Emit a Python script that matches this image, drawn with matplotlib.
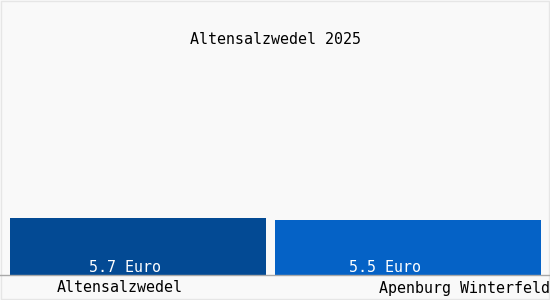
import numpy as np
import matplotlib.pyplot as plt

title = 'Altensalzwedel 2025'
places = ['Altensalzwedel', 'Apenburg Winterfeld']
prices = [5.7, 5.5]
bar_colors = ['#034a94', '#0562c6']

fig = plt.figure(figsize=(5.5, 3), dpi=100, facecolor='#f9f9f9')
ax = fig.add_axes([0, 25 / 300, 1, 275 / 300])
ax.set_facecolor('#f9f9f9')

x = np.arange(len(places))
ax.bar(x, prices, width=[0.948, 0.985], color=bar_colors, align='center')
ax.set_xlim(-0.511, 1.526)
ax.set_ylim(0, 27.5)
ax.axis('off')

font = dict(family='DejaVu Sans Mono', fontsize=10.8)

# value labels inside the bars
offsets = [-0.048, -0.085]
for xi, v, off in zip(x, prices, offsets):
    ax.text(xi + off, 0.7, f'{v:.1f} Euro', color='white',
            ha='center', va='center', **font)

# baseline
fig.add_artist(plt.Line2D([0, 1], [25 / 300, 25 / 300], color='#a8a8a8', lw=1))

# faint frame
fig.add_artist(plt.Rectangle((1 / 550, 1 / 300), 548 / 550, 298 / 300, fill=False,
                             edgecolor='#e6e6e6', lw=1))

# category labels
fig.text(120 / 550, 12 / 300, places[0], ha='center', va='center', **font)
fig.text(550 / 550, 12 / 300, places[1], ha='right', va='center', **font)

fig.text(0.5, 1 - 39 / 300, title, ha='center', va='center', **font)

fig.savefig('out.png', dpi=100, facecolor=fig.get_facecolor())
